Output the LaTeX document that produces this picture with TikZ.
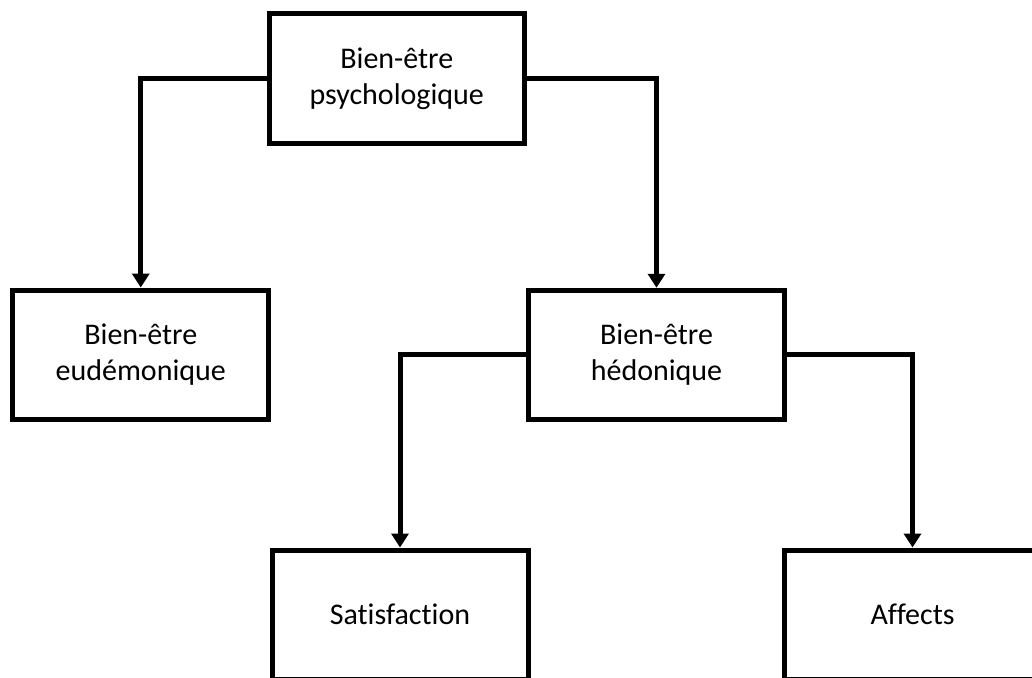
\documentclass[tikz,border=0pt]{standalone}
\usepackage{fontspec}
\setmainfont{Carlito}[Ligatures=CommonOff]
\usetikzlibrary{arrows.meta}
\begin{document}
\begin{tikzpicture}[x=1pt,y=-1pt,
  box/.style={draw=black,line width=5pt,fill=white,minimum width=256pt,minimum height=129pt,
    align=center,font=\fontsize{30}{36}\selectfont,inner sep=0pt},
  conn/.style={line width=5pt,-{Triangle[width=17pt,length=14pt]}}]
\clip (0,0) rectangle (1032,677);
\fill[white] (0,0) rectangle (1032,677);
\node[box,minimum width=255.5pt,minimum height=129.5pt] (top) at (396.75,78.75) {Bien-être\\psychologique};
\node[box] (left) at (140.75,354.5) {Bien-être\\eudémonique};
\node[box] (mid) at (656.5,354.75) {Bien-être\\hédonique};
\node[box] (sat) at (400,614.5) {Satisfaction};
\node[box] (aff) at (912.5,614.5) {Affects};
\draw[conn] (top.west) -| (left.north);
\draw[conn] (top.east) -| (mid.north);
\draw[conn] (mid.west) -| (sat.north);
\draw[conn] (mid.east) -| (aff.north);
\end{tikzpicture}
\end{document}
